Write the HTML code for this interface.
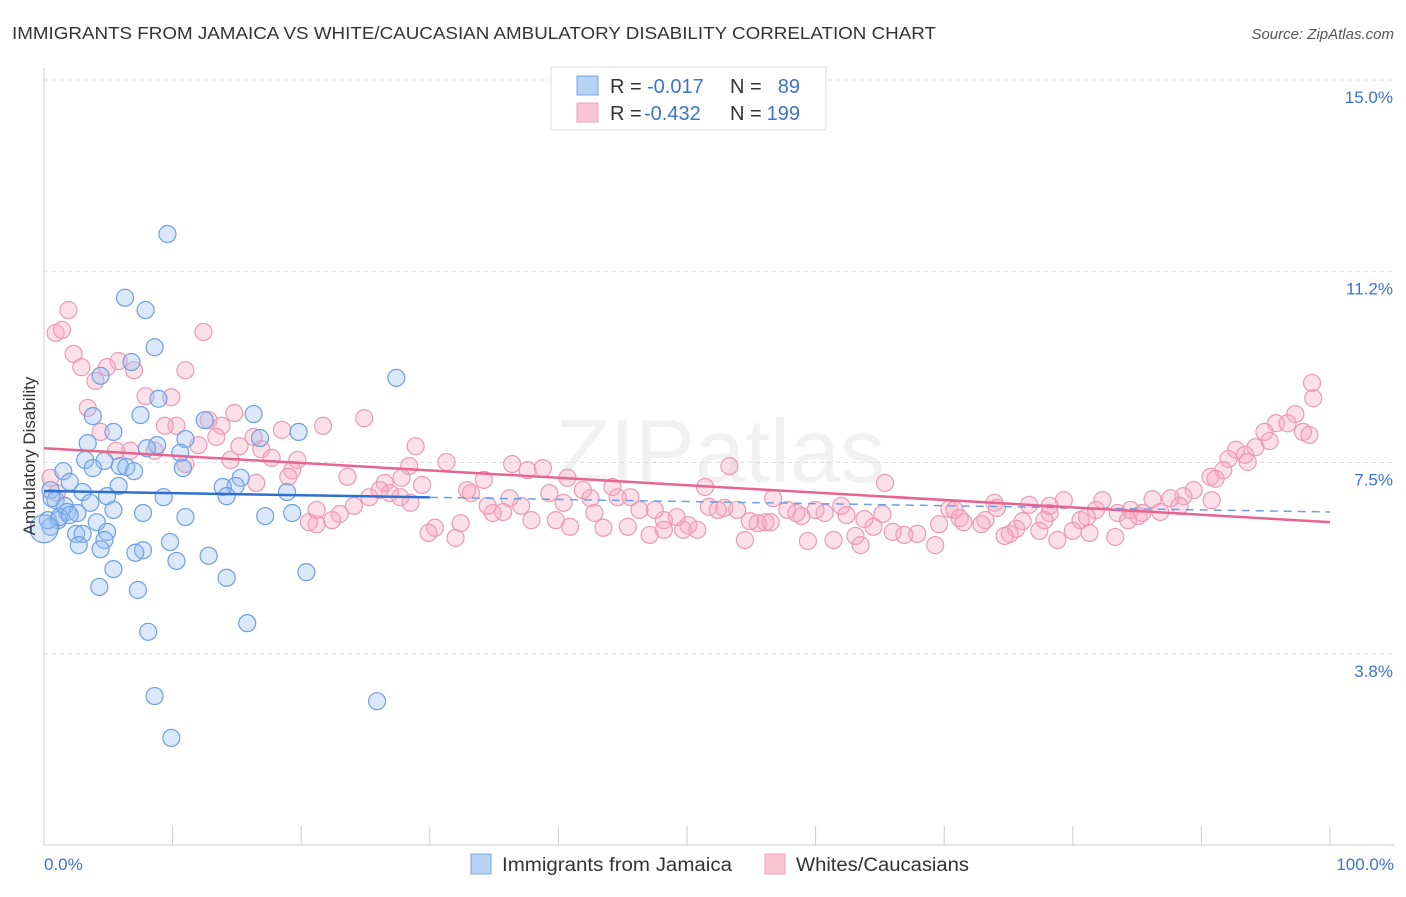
<!DOCTYPE html>
<html><head><meta charset="utf-8">
<style>
body{margin:0;background:#fff;font-family:"Liberation Sans",sans-serif;}
svg text{font-family:"Liberation Sans",sans-serif;}
</style></head>
<body>
<svg id="chart" width="1406" height="892">
<text x="12" y="39" font-size="17.5" fill="#333" textLength="924" lengthAdjust="spacingAndGlyphs">IMMIGRANTS FROM JAMAICA VS WHITE/CAUCASIAN AMBULATORY DISABILITY CORRELATION CHART</text>
<text x="1394" y="39" font-size="15" fill="#555" font-style="italic" text-anchor="end">Source: ZipAtlas.com</text>
<text x="720" y="482" font-size="90" fill="#000" opacity="0.05" text-anchor="middle" font-family="Liberation Serif">ZIPatlas</text>
<g id="grid"></g>
<g id="pts"></g>
<g id="lines"></g>
<text transform="translate(35,456) rotate(-90)" font-size="17" fill="#333" text-anchor="middle">Ambulatory Disability</text>
<text x="44" y="870" font-size="17" fill="#3b73d0">0.0%</text>
<text x="1394" y="870" font-size="17" fill="#3b73d0" text-anchor="end">100.0%</text>
<g>
<rect x="551" y="67" width="275" height="63" fill="#fff" stroke="#ddd"/>
<rect x="577" y="76" width="21" height="19" fill="#b6d2f5" stroke="#7ba6e0"/>
<rect x="577" y="103" width="21" height="19" fill="#f9c4d4" stroke="#eca0b8"/>
<text x="610" y="93" font-size="20" fill="#333">R =</text>
<text x="647" y="93" font-size="20" fill="#3b73d0">-0.017</text>
<text x="730" y="93" font-size="20" fill="#333">N =</text>
<text x="800" y="93" font-size="20" fill="#3b73d0" text-anchor="end">89</text>
<text x="610" y="120" font-size="20" fill="#333">R =</text>
<text x="644" y="120" font-size="20" fill="#3b73d0">-0.432</text>
<text x="730" y="120" font-size="20" fill="#333">N =</text>
<text x="800" y="120" font-size="20" fill="#3b73d0" text-anchor="end">199</text>
</g>
<g>
<rect x="471" y="854" width="20" height="20" fill="#b6d2f5" stroke="#7ba6e0"/>
<text x="502" y="871" font-size="19" fill="#333" textLength="230" lengthAdjust="spacingAndGlyphs">Immigrants from Jamaica</text>
<rect x="765" y="854" width="20" height="20" fill="#f9c4d4" stroke="#eca0b8"/>
<text x="796" y="871" font-size="19" fill="#333" textLength="173" lengthAdjust="spacingAndGlyphs">Whites/Caucasians</text>
</g>
</svg>
<script>
const yTicks=[15.0,11.25,7.5,3.75];
const yTickLabels=["15.0%","11.2%","7.5%","3.8%"];
const xTicks=[0,10,20,30,40,50,60,70,80,90,100];
const blueX=[9.6,6.3,7.9,8.6,6.8,4.4,27.4,8.9,3.8,7.5,16.3,12.5,5.4,19.8,11.0,3.4,16.8,8.8,8.0,10.6,3.2,4.7,5.9,6.4,3.8,1.5,7.0,10.8,15.3,2.0,5.8,14.9,13.9,0.5,3.0,4.9,9.3,14.2,18.9,0.9,3.6,1.6,1.8,2.6,5.4,7.7,11.0,17.2,19.3,1.1,4.1,4.9,2.5,3.0,4.7,2.7,9.8,4.4,7.7,7.1,12.8,10.3,5.4,20.4,14.2,4.3,7.3,15.8,8.1,8.6,25.9,9.9,0.5,0.3,1.2,2.0,0.6,0.0];
const blueY=[11.98,10.73,10.49,9.76,9.47,9.20,9.16,8.75,8.41,8.43,8.45,8.33,8.10,8.10,7.96,7.88,7.98,7.84,7.78,7.69,7.55,7.53,7.43,7.41,7.39,7.33,7.33,7.39,7.20,7.12,7.04,7.04,7.02,6.96,6.92,6.84,6.82,6.84,6.92,6.76,6.71,6.65,6.53,6.51,6.57,6.51,6.43,6.45,6.51,6.37,6.33,6.14,6.10,6.10,5.98,5.88,5.94,5.80,5.78,5.73,5.67,5.57,5.41,5.35,5.24,5.06,5.00,4.35,4.18,2.92,2.82,2.10,6.24,6.37,6.43,6.47,6.80,6.2];
const pinkX=[1.9,0.9,1.4,12.4,2.3,5.8,2.9,4.9,7.0,11.0,4.0,7.9,9.9,3.4,24.9,14.8,12.8,10.3,9.4,21.7,18.5,13.8,4.4,13.4,16.3,12.0,5.6,6.7,8.6,15.2,16.9,28.9,11.0,14.5,17.7,19.7,31.3,28.4,36.4,37.6,38.8,53.3,19.3,19.0,23.6,26.5,34.2,27.8,40.7,98.6,98.7,97.3,95.8,96.7,97.9,98.4,94.9,95.3,94.2,92.7,93.4,92.1,91.7,93.6,90.7,91.1,89.4,88.6,90.8,87.6,86.2,86.8,88.3,82.3,83.5,84.5,85.1,85.4,84.3,81.8,80.6,81.1,80.0,81.3,83.3,79.3,78.2,77.8,78.2,77.4,76.6,76.1,75.6,75.1,74.7,78.8,73.9,74.1,73.2,72.9,71.5,71.2,70.4,70.8,69.6,69.3,67.9,66.9,66.0,65.2,64.5,63.8,63.1,63.5,62.4,62.0,65.4,61.4,60.7,60.0,59.4,58.9,58.5,57.8,56.7,56.1,56.5,55.5,54.9,54.5,53.9,52.9,51.7,52.4,51.4,50.8,50.1,49.7,49.2,48.2,47.5,47.1,48.2,46.3,45.6,45.4,44.6,44.2,43.5,42.8,42.5,41.9,40.9,40.4,39.8,39.3,37.9,37.1,36.2,35.7,34.9,34.5,33.2,32.9,32.4,32.0,30.4,29.9,29.4,28.5,27.7,26.9,26.1,25.3,24.1,23.0,22.4,21.2,20.6,21.2,16.5,0.5,1.0];
const pinkY=[10.49,10.04,10.1,10.06,9.63,9.49,9.37,9.37,9.31,9.31,9.10,8.80,8.78,8.57,8.37,8.47,8.33,8.22,8.22,8.22,8.14,8.22,8.10,8.0,8.0,7.84,7.73,7.73,7.73,7.82,7.76,7.82,7.47,7.55,7.59,7.55,7.51,7.43,7.47,7.35,7.39,7.43,7.35,7.22,7.22,7.10,7.16,7.20,7.20,9.06,8.76,8.45,8.27,8.27,8.10,8.04,8.10,7.92,7.80,7.75,7.65,7.57,7.35,7.51,7.22,7.18,6.96,6.84,6.76,6.80,6.78,6.53,6.65,6.76,6.51,6.57,6.45,6.51,6.37,6.57,6.37,6.43,6.16,6.12,6.04,6.76,6.51,6.37,6.65,6.16,6.67,6.35,6.20,6.10,6.06,5.98,6.71,6.61,6.37,6.29,6.33,6.41,6.59,6.57,6.29,5.88,6.10,6.08,6.14,6.49,6.24,6.39,6.06,5.88,6.47,6.65,7.10,5.98,6.51,6.57,5.96,6.45,6.51,6.57,6.80,6.33,6.33,6.31,6.35,5.98,6.57,6.61,6.63,6.57,7.02,6.18,6.27,6.18,6.43,6.37,6.57,6.08,6.18,6.57,6.82,6.24,6.82,7.02,6.22,6.51,6.80,6.96,6.24,6.71,6.37,6.90,6.37,6.65,6.80,6.53,6.51,6.65,6.90,6.96,6.31,6.02,6.22,6.12,7.06,6.71,6.82,6.90,6.96,6.82,6.65,6.49,6.37,6.29,6.33,6.57,7.10,7.2,6.9];
const blueTrend=[6.94,6.53];
const pinkTrend=[7.78,6.33];
const NS="http://www.w3.org/2000/svg";
const X=v=>44+v*12.86, Y=v=>80+(15-v)*51;
function mk(t,a,p){const e=document.createElementNS(NS,t);for(const k in a)e.setAttribute(k,a[k]);p.appendChild(e);return e;}
const grid=document.getElementById('grid');
yTicks.forEach((t,i)=>{
 const l=mk('line',{x1:44,x2:1394,y1:Y(t),y2:Y(t),stroke:'#ddd','stroke-dasharray':'4,4'},grid);
 
 
 const tx=mk('text',{x:1393,y:Y(t)+23,'font-size':17,fill:'#3b73d0','text-anchor':'end'},grid);
 tx.textContent=yTickLabels[i];
 
 
});
const ax=mk('line',{x1:44,x2:1394,y1:845,y2:845,stroke:'#ccc'},grid);


const ay=mk('line',{x1:44,x2:44,y1:68,y2:845,stroke:'#ccc'},grid);


xTicks.forEach(t=>{const l=mk('line',{x1:X(t),x2:X(t),y1:826,y2:845,stroke:'#ccc'},grid);
 
 });
const pts=document.getElementById('pts');
pinkX.forEach((x,i)=>{const c=mk('circle',{cx:X(x),cy:Y(pinkY[i]),r:8.5,fill:'rgba(245,165,192,0.35)',stroke:'#eb9ab6','stroke-width':1.2},pts);
 
 });
blueX.forEach((x,i)=>{const c=mk('circle',{cx:X(x),cy:Y(blueY[i]),r:(i==blueX.length-1?14:8.5),fill:'rgba(150,190,240,0.35)',stroke:'#6e9fe0','stroke-width':1.2},pts);
 
 });
const lines=document.getElementById('lines');
const bAt=v=>blueTrend[0]+(blueTrend[1]-blueTrend[0])*v/100;
let l1=mk('line',{x1:X(0),y1:Y(bAt(0)),x2:X(30),y2:Y(bAt(30)),stroke:'#2e6fd4','stroke-width':2.5},lines);


let l2=mk('line',{x1:X(30),y1:Y(bAt(30)),x2:X(100),y2:Y(bAt(100)),stroke:'#6e9fe0','stroke-width':1.5,'stroke-dasharray':'8,6'},lines);


let l3=mk('line',{x1:X(0),y1:Y(pinkTrend[0]),x2:X(100),y2:Y(pinkTrend[1]),stroke:'#e6648f','stroke-width':2.5},lines);


</script>
</body></html>
